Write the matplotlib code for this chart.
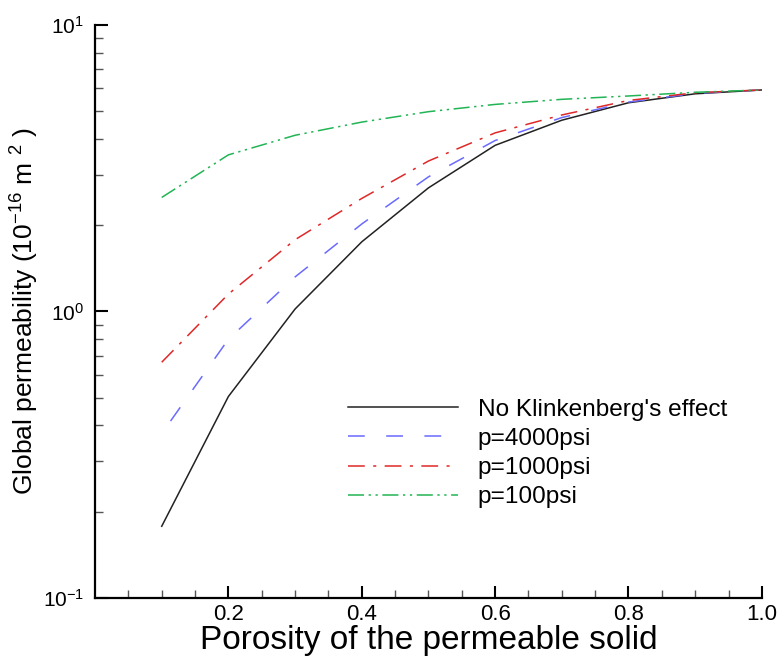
import matplotlib
matplotlib.use('Agg')
import matplotlib.pyplot as plt
from matplotlib.ticker import FixedLocator, LogLocator, NullFormatter
from matplotlib.legend_handler import HandlerLine2D

plt.rcParams['font.family'] = ['Liberation Sans', 'DejaVu Sans']
plt.rcParams['mathtext.fontset'] = 'custom'
plt.rcParams['mathtext.rm'] = 'Liberation Sans'
plt.rcParams['mathtext.it'] = 'Liberation Sans:italic'
plt.rcParams['mathtext.default'] = 'regular'
plt.rcParams['axes.unicode_minus'] = False

# porosity values
porosity = [0.1, 0.2, 0.3, 0.4, 0.5, 0.6, 0.7, 0.8, 0.9, 1.0]

# global permeability, 10^-16 m^2
no_klink = [0.178, 0.505, 1.02, 1.75, 2.7, 3.8, 4.65, 5.35, 5.75, 5.93]
p4000 = [0.375, 0.80, 1.32, 2.02, 2.95, 3.95, 4.75, 5.38, 5.77, 5.93]
p1000 = [0.665, 1.15, 1.78, 2.48, 3.35, 4.2, 4.85, 5.45, 5.8, 5.93]
p100 = [2.5, 3.52, 4.12, 4.58, 4.98, 5.28, 5.5, 5.65, 5.82, 5.93]

labels = ["No Klinkenberg's effect", "p=4000psi", "p=1000psi", "p=100psi"]
xticks = [0.2, 0.4, 0.6, 0.8, 1.0]

fig = plt.figure(figsize=(7.79, 6.56), dpi=100)
ax = fig.add_axes([0.122, 0.0884, 0.856, 0.8736])

ax.plot(porosity, no_klink, color='#222222', lw=1.1, label=labels[0])
blue, = ax.plot(porosity, p4000, color='#6a6aff', lw=1.1, ls=(15, (11, 14)), label=labels[1])
ax.plot(porosity, p1000, color='#e02828', lw=1.1, dashes=(11, 5.5, 2, 5.5), label=labels[2])
ax.plot(porosity, p100, color='#22b455', lw=1.1,
        dashes=(10.5, 3, 1.5, 3, 1.5, 3), label=labels[3], clip_on=False)

ax.set_yscale('log')
ax.set_ylim(0.1, 10)
ax.set_xlim(0, 1.0)

ax.xaxis.set_major_locator(FixedLocator(xticks))
ax.xaxis.set_minor_locator(FixedLocator([i * 0.05 for i in range(1, 20) if i % 4 != 0]))
ax.set_xticklabels(['%.1f' % t for t in xticks])
ax.yaxis.set_major_locator(LogLocator(base=10, numticks=5))
ax.yaxis.set_minor_locator(LogLocator(base=10, subs=range(2, 10), numticks=20))
ax.yaxis.set_minor_formatter(NullFormatter())

for s in ['top', 'right']:
    ax.spines[s].set_visible(False)
for s in ['left', 'bottom']:
    ax.spines[s].set_linewidth(1.6)

ax.tick_params(which='major', direction='in', length=9, width=1.5)
ax.tick_params(which='minor', direction='in', length=6, width=1.0, color='#555555')
ax.tick_params(axis='x', which='major', labelsize=16, pad=4)
ax.tick_params(axis='y', which='major', labelsize=15, pad=8)

ax.set_xlabel('Porosity of the permeable solid', fontsize=24, labelpad=0)
ax.set_ylabel('Global permeability (10$^{-16}$ m $^{2}$ )', fontsize=19, labelpad=1)


def plain_dash(handle, orig):
    handle.update_from(orig)
    handle.set_linestyle((0, (11, 14)))


ax.legend(loc='upper left', bbox_to_anchor=(0.379, 0.348), frameon=False,
          borderaxespad=0, borderpad=0,
          fontsize=17.6, handlelength=4.5, handletextpad=0.82, labelspacing=0.29,
          handler_map={blue: HandlerLine2D(update_func=plain_dash)})

fig.savefig('out.png', dpi=100)
